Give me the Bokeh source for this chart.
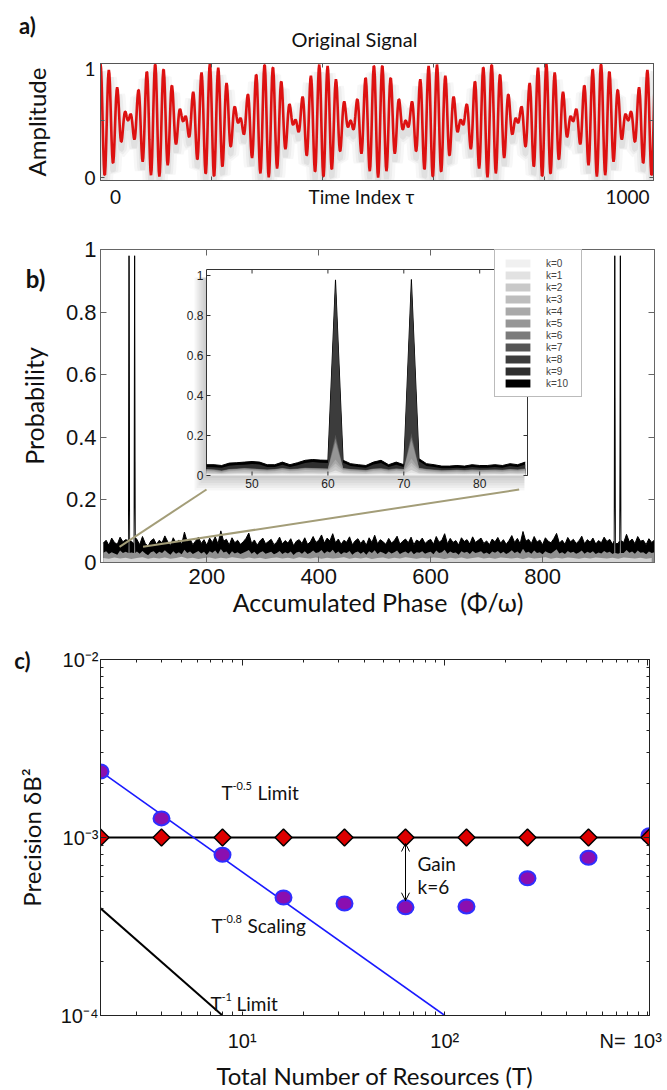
import numpy as np
from bokeh.plotting import figure
from bokeh.layouts import column
from bokeh.models import (Range1d, FixedTicker, LinearAxis, LogAxis, Label,
                          Legend, LegendItem, Arrow, OpenHead)
from bokeh.core.properties import value
from bokeh.embed import file_html
from bokeh.resources import INLINE

# ======================= DATA =======================
# (a) original signal: two cosine components (the two peaks seen in panel b)
signal_tau = list(range(0, 1001))
signal_freqs = [61, 71]
signal_amps = [0.25, 0.25]
signal_offset = 0.5

# (b) main panel: noise floor of the probability, sampled every 5 units
main_phase = list(range(15, 1001, 5))
main_k10 = [
    0.062, 0.071, 0.055, 0.078, 0.064, 0.058, 0.081, 0.066, 0.073, 0.059,
    0.068, 0.049, 0.074, 0.057, 0.083, 0.061, 0.052, 0.069, 0.076, 0.058,
    0.071, 0.063, 0.085, 0.067, 0.054, 0.079, 0.062, 0.072, 0.058, 0.097,
    0.066, 0.075, 0.057, 0.069, 0.081, 0.061, 0.073, 0.055, 0.078, 0.064,
    0.082, 0.059, 0.101, 0.068, 0.074, 0.056, 0.079, 0.063, 0.071, 0.058,
    0.066, 0.077, 0.094, 0.061, 0.072, 0.055, 0.069, 0.078, 0.060, 0.067,
    0.074, 0.057, 0.065, 0.081, 0.059, 0.070, 0.062, 0.076, 0.054, 0.068,
    0.073, 0.061, 0.079, 0.058, 0.066, 0.083, 0.064, 0.071, 0.088, 0.062,
    0.078, 0.069, 0.092, 0.063, 0.075, 0.058, 0.071, 0.065, 0.082, 0.057,
    0.069, 0.076, 0.061, 0.072, 0.055, 0.079, 0.064, 0.087, 0.060, 0.073,
    0.066, 0.058, 0.077, 0.062, 0.070, 0.084, 0.059, 0.068, 0.075, 0.063,
    0.081, 0.057, 0.072, 0.066, 0.078, 0.061, 0.069, 0.074, 0.058, 0.083,
    0.065, 0.071, 0.092, 0.060, 0.077, 0.064, 0.070, 0.056, 0.079, 0.067,
    0.073, 0.059, 0.082, 0.064, 0.071, 0.078, 0.061, 0.069, 0.057, 0.075,
    0.066, 0.080, 0.062, 0.073, 0.058, 0.070, 0.086, 0.064, 0.077, 0.060,
    0.099, 0.068, 0.074, 0.061, 0.083, 0.065, 0.072, 0.057, 0.079, 0.068,
    0.063, 0.076, 0.093, 0.062, 0.071, 0.058, 0.080, 0.066, 0.074, 0.061,
    0.069, 0.084, 0.060, 0.073, 0.065, 0.078, 0.059, 0.070, 0.063, 0.081,
    0.067, 0.074, 0.058, 0.072, 0.061, 0.079, 0.064, 0.090, 0.066, 0.075,
    0.060, 0.083, 0.068, 0.071, 0.057, 0.076, 0.064, 0.072]
main_k5 = [
    0.031, 0.036, 0.027, 0.033, 0.029, 0.025, 0.038, 0.030, 0.034, 0.026,
    0.032, 0.024, 0.035, 0.028, 0.037, 0.029, 0.023, 0.033, 0.036, 0.027,
    0.034, 0.030, 0.039, 0.031, 0.025, 0.036, 0.028, 0.033, 0.026, 0.041,
    0.030, 0.035, 0.027, 0.032, 0.037, 0.029, 0.034, 0.024, 0.036, 0.031,
    0.038, 0.027, 0.043, 0.032, 0.035, 0.025, 0.036, 0.029, 0.033, 0.027,
    0.031, 0.035, 0.040, 0.028, 0.034, 0.025, 0.032, 0.036, 0.028, 0.031,
    0.034, 0.026, 0.030, 0.037, 0.027, 0.033, 0.029, 0.035, 0.024, 0.032,
    0.034, 0.028, 0.036, 0.027, 0.031, 0.038, 0.030, 0.033, 0.040, 0.029,
    0.036, 0.032, 0.041, 0.029, 0.035, 0.026, 0.033, 0.030, 0.037, 0.025,
    0.032, 0.035, 0.028, 0.034, 0.025, 0.036, 0.030, 0.039, 0.027, 0.034,
    0.031, 0.026, 0.035, 0.029, 0.033, 0.038, 0.027, 0.032, 0.035, 0.029,
    0.037, 0.026, 0.033, 0.031, 0.036, 0.028, 0.032, 0.034, 0.026, 0.038,
    0.030, 0.033, 0.041, 0.028, 0.035, 0.030, 0.032, 0.025, 0.036, 0.031,
    0.034, 0.027, 0.037, 0.030, 0.033, 0.036, 0.028, 0.032, 0.026, 0.035,
    0.031, 0.037, 0.029, 0.034, 0.027, 0.032, 0.039, 0.030, 0.035, 0.028,
    0.044, 0.031, 0.034, 0.028, 0.038, 0.030, 0.033, 0.026, 0.036, 0.031,
    0.029, 0.035, 0.042, 0.029, 0.033, 0.027, 0.037, 0.031, 0.034, 0.028,
    0.032, 0.038, 0.028, 0.034, 0.030, 0.036, 0.027, 0.032, 0.029, 0.037,
    0.031, 0.034, 0.027, 0.033, 0.028, 0.036, 0.030, 0.040, 0.031, 0.035,
    0.028, 0.038, 0.031, 0.033, 0.026, 0.035, 0.030, 0.033]
main_phase_k2 = list(range(15, 1000, 10))
main_k2 = [
    0.014, 0.012, 0.016, 0.013, 0.015, 0.011, 0.014, 0.017, 0.012, 0.015,
    0.013, 0.016, 0.012, 0.014, 0.018, 0.013, 0.015, 0.011, 0.014, 0.016,
    0.012, 0.015, 0.013, 0.017, 0.014, 0.012, 0.016, 0.013, 0.015, 0.011,
    0.014, 0.016, 0.013, 0.015, 0.012, 0.017, 0.014, 0.013, 0.016, 0.012,
    0.015, 0.013, 0.014, 0.017, 0.012, 0.015, 0.013, 0.016, 0.011, 0.014,
    0.016, 0.012, 0.015, 0.013, 0.017, 0.014, 0.012, 0.015, 0.013, 0.016,
    0.014, 0.011, 0.015, 0.013, 0.016, 0.012, 0.014, 0.017, 0.013, 0.015,
    0.012, 0.016, 0.014, 0.013, 0.015, 0.011, 0.016, 0.013, 0.014, 0.017,
    0.012, 0.015, 0.013, 0.016, 0.014, 0.012, 0.015, 0.013, 0.016, 0.014,
    0.013, 0.015, 0.012, 0.016, 0.014, 0.013, 0.015, 0.012, 0.014]
peak_phase = [60, 61, 62, 70, 71, 72, 928, 929, 930, 938, 939, 940]
peak_k10 = [0.07, 0.98, 0.07, 0.06, 0.98, 0.08, 0.07, 0.98, 0.06, 0.07, 0.98, 0.07]
peak_k5 = [0.03, 0.17, 0.03, 0.03, 0.18, 0.03, 0.03, 0.18, 0.03, 0.03, 0.17, 0.03]

# (b) inset: zoom on phases 44..86, one series per k
inset_phase = list(range(44, 87))
inset_p = {
    10: [0.054, 0.054, 0.050, 0.062, 0.064, 0.067, 0.070, 0.067, 0.054, 0.054,
         0.067, 0.054, 0.064, 0.076, 0.080, 0.077, 0.076, 0.978, 0.076, 0.059,
         0.054, 0.050, 0.067, 0.076, 0.054, 0.067, 0.054, 0.980, 0.084, 0.059,
         0.054, 0.047, 0.047, 0.050, 0.047, 0.054, 0.050, 0.050, 0.054, 0.050,
         0.059, 0.054, 0.067],
    9: [0.043, 0.041, 0.039, 0.049, 0.052, 0.054, 0.058, 0.055, 0.043, 0.042,
        0.054, 0.043, 0.051, 0.063, 0.067, 0.064, 0.062, 0.966, 0.064, 0.047,
        0.042, 0.039, 0.055, 0.063, 0.043, 0.054, 0.042, 0.968, 0.071, 0.047,
        0.042, 0.036, 0.036, 0.039, 0.036, 0.042, 0.039, 0.039, 0.043, 0.039,
        0.047, 0.042, 0.055],
    8: [0.034, 0.032, 0.026, 0.034, 0.036, 0.039, 0.037, 0.034, 0.032, 0.034,
        0.039, 0.034, 0.036, 0.040, 0.039, 0.038, 0.037, 0.950, 0.039, 0.034,
        0.032, 0.029, 0.036, 0.038, 0.032, 0.037, 0.034, 0.955, 0.040, 0.034,
        0.031, 0.028, 0.029, 0.031, 0.029, 0.032, 0.030, 0.031, 0.032, 0.030,
        0.034, 0.032, 0.036],
    7: [0.033, 0.031, 0.025, 0.033, 0.035, 0.038, 0.036, 0.033, 0.031, 0.033,
        0.038, 0.033, 0.035, 0.039, 0.038, 0.037, 0.036, 0.205, 0.038, 0.033,
        0.031, 0.028, 0.035, 0.037, 0.031, 0.036, 0.033, 0.212, 0.039, 0.033,
        0.030, 0.027, 0.028, 0.030, 0.028, 0.031, 0.029, 0.030, 0.031, 0.029,
        0.033, 0.031, 0.035],
    6: [0.031, 0.029, 0.023, 0.031, 0.033, 0.036, 0.034, 0.031, 0.029, 0.031,
        0.036, 0.031, 0.033, 0.037, 0.036, 0.035, 0.034, 0.186, 0.036, 0.031,
        0.029, 0.026, 0.033, 0.035, 0.029, 0.034, 0.031, 0.193, 0.037, 0.031,
        0.028, 0.025, 0.026, 0.028, 0.026, 0.029, 0.027, 0.028, 0.029, 0.027,
        0.031, 0.029, 0.033],
    5: [0.030, 0.028, 0.022, 0.030, 0.032, 0.035, 0.033, 0.030, 0.028, 0.030,
        0.035, 0.030, 0.032, 0.036, 0.035, 0.034, 0.033, 0.168, 0.035, 0.030,
        0.028, 0.025, 0.032, 0.034, 0.028, 0.033, 0.030, 0.176, 0.036, 0.030,
        0.027, 0.024, 0.025, 0.027, 0.025, 0.028, 0.026, 0.027, 0.028, 0.026,
        0.030, 0.028, 0.032],
    4: [0.025, 0.023, 0.017, 0.025, 0.027, 0.030, 0.028, 0.025, 0.023, 0.025,
        0.030, 0.025, 0.027, 0.031, 0.030, 0.029, 0.028, 0.080, 0.030, 0.025,
        0.023, 0.020, 0.027, 0.029, 0.023, 0.028, 0.025, 0.085, 0.031, 0.025,
        0.022, 0.019, 0.020, 0.022, 0.020, 0.023, 0.021, 0.022, 0.023, 0.021,
        0.025, 0.023, 0.027],
    3: [0.021, 0.019, 0.013, 0.021, 0.023, 0.026, 0.024, 0.021, 0.019, 0.021,
        0.026, 0.021, 0.023, 0.027, 0.026, 0.025, 0.024, 0.060, 0.026, 0.021,
        0.019, 0.016, 0.023, 0.025, 0.019, 0.024, 0.021, 0.064, 0.027, 0.021,
        0.018, 0.015, 0.016, 0.018, 0.016, 0.019, 0.017, 0.018, 0.019, 0.017,
        0.021, 0.019, 0.023],
    2: [0.014, 0.013, 0.012, 0.015, 0.016, 0.017, 0.016, 0.014, 0.013, 0.014,
        0.017, 0.014, 0.015, 0.018, 0.017, 0.016, 0.016, 0.045, 0.017, 0.014,
        0.013, 0.012, 0.016, 0.017, 0.013, 0.016, 0.014, 0.047, 0.018, 0.014,
        0.013, 0.011, 0.012, 0.013, 0.012, 0.013, 0.012, 0.013, 0.013, 0.012,
        0.014, 0.013, 0.015],
    1: [0.010, 0.009, 0.008, 0.010, 0.011, 0.011, 0.010, 0.010, 0.009, 0.010,
        0.011, 0.010, 0.010, 0.011, 0.011, 0.010, 0.011, 0.025, 0.011, 0.010,
        0.009, 0.008, 0.010, 0.011, 0.009, 0.010, 0.010, 0.027, 0.011, 0.010,
        0.009, 0.008, 0.008, 0.009, 0.008, 0.009, 0.008, 0.009, 0.009, 0.008,
        0.010, 0.009, 0.010],
    0: [0.006, 0.006, 0.005, 0.006, 0.007, 0.007, 0.006, 0.006, 0.005, 0.006,
        0.007, 0.006, 0.006, 0.007, 0.007, 0.006, 0.007, 0.013, 0.007, 0.006,
        0.005, 0.005, 0.006, 0.007, 0.006, 0.006, 0.006, 0.014, 0.007, 0.006,
        0.005, 0.005, 0.005, 0.006, 0.005, 0.006, 0.005, 0.005, 0.006, 0.005,
        0.006, 0.005, 0.006],
}
inset_xticks = [50, 60, 70, 80]
inset_yticks = [0, 0.2, 0.4, 0.6, 0.8, 1]
inset_ytick_labels = ["0", "0.2", "0.4", "0.6", "0.8", "1"]
k_values = list(range(11))
k_colors = ["#f0f0f0", "#e2e2e2", "#c9c9c9", "#bdbdbd", "#a9a9a9", "#969696",
            "#7b7b7b", "#555555", "#3c3c3c", "#2e2e2e", "#000000"]

# (c) precision vs resources
T_resources = [2, 4, 8, 16, 32, 64, 128, 256, 512, 1024]
precision_adaptive = [2.35e-3, 1.28e-3, 8.0e-4, 4.6e-4, 4.26e-4, 4.05e-4,
                      4.1e-4, 5.9e-4, 7.7e-4, 1.03e-3]
precision_limit05 = [1.0e-3, 1.0e-3, 1.0e-3, 1.0e-3, 1.0e-3, 1.0e-3,
                     1.0e-3, 1.0e-3, 1.0e-3, 1.0e-3]
scaling08_T = [2, 100]
scaling08_v = [2.35e-3, 1.0e-4]
limit1_T = [2, 8]
limit1_v = [4.0e-4, 1.0e-4]

# ======================= LAYOUT HELPERS =======================
W = 667  # page has no body margin: canvases start at (0, 0)


class Geo:
    """page-pixel <-> data conversion for one frame"""
    def __init__(s, fl, ft, fw, fh, xr, yr, xlog=False, ylog=False):
        s.fl, s.ft, s.fw, s.fh = fl, ft, fw, fh
        s.xr, s.yr, s.xlog, s.ylog = xr, yr, xlog, ylog

    @staticmethod
    def _interp(f, a, b, log):
        if log:
            return float(10 ** (np.log10(a) + f * (np.log10(b) - np.log10(a))))
        return float(a + f * (b - a))

    def x(s, px):
        return s._interp((px - s.fl) / s.fw, s.xr[0], s.xr[1], s.xlog)

    def y(s, py):
        return s._interp((s.ft + s.fh - py) / s.fh, s.yr[0], s.yr[1], s.ylog)

    def px(s, x):
        return s.fl + (x - s.xr[0]) / (s.xr[1] - s.xr[0]) * s.fw

    def py(s, y):
        return s.ft + s.fh - (y - s.yr[0]) / (s.yr[1] - s.yr[0]) * s.fh


def make_fig(top, h, fl, ft, fw, fh, **kw):
    p = figure(frame_width=fw, frame_height=fh,
               min_border_left=fl, min_border_right=W - fl - fw,
               min_border_top=ft - top, min_border_bottom=h - (ft - top) - fh,
               output_backend="svg", toolbar_location=None, **kw)
    p.xgrid.visible = False
    p.ygrid.visible = False
    p.background_fill_color = "white"
    p.border_fill_color = "white"
    return p


def style_axis(ax, ticks, minor=None, color="#444", labels=False,
               font="Liberation Sans", size=20, standoff=4, overrides=None,
               tick=6, minor_tick=3, show_major=True):
    ax.ticker = FixedTicker(ticks=ticks, minor_ticks=minor or [])
    ax.major_tick_in = tick
    ax.major_tick_out = 0
    ax.minor_tick_in = minor_tick
    ax.minor_tick_out = 0
    ax.axis_line_color = color
    ax.major_tick_line_color = color if show_major else None
    ax.minor_tick_line_color = color if minor else None
    if labels:
        ax.major_label_text_font = font
        ax.major_label_text_font_size = f"{size}px"
        ax.major_label_text_color = "#111"
        ax.major_label_standoff = standoff
    else:
        # tick-only axis: labels are not painted
        ax.major_label_text_font_size = "2px"
        ax.major_label_text_color = None
        ax.major_label_standoff = 0
    if overrides:
        ax.major_label_overrides = overrides


def axis_title(ax, text, size, standoff, font="Lato"):
    ax.axis_label = text
    ax.axis_label_text_font = font
    ax.axis_label_text_font_size = f"{size}px"
    ax.axis_label_text_font_style = "normal"
    ax.axis_label_text_color = "#111"
    ax.axis_label_standoff = standoff


def add_text(p, g, px, py, text, size, font="Lato", align="center",
             bold=False, angle=0, baseline="middle", color="#111", side="center"):
    lab = Label(x=g.x(px), y=g.y(py), text=text, text_font=font,
                text_font_size=f"{size}px", text_align=align,
                text_baseline=baseline, angle=angle, text_color=color,
                text_font_style="bold" if bold else "normal")
    p.add_layout(lab, side)


# ======================= PANEL A =======================
A_TOP, A_H = 0, 215
A_FL, A_FT, A_FW, A_FH = 94, 63, 553, 117
a_xr, a_yr = (0, 996), (-0.026, 1.0)
ga = Geo(A_FL, A_FT, A_FW, A_FH, a_xr, a_yr)
pa = make_fig(A_TOP, A_H, A_FL, A_FT, A_FW, A_FH,
              x_range=Range1d(*a_xr), y_range=Range1d(*a_yr))
pa.outline_line_color = "#555"

tau = np.array(signal_tau, dtype=float)
signal = signal_offset + sum(a * np.cos(2 * np.pi * f * tau / 1000.0)
                             for f, a in zip(signal_freqs, signal_amps))
# soft drop shadow under the curve
for lw, al in [(16, 0.03), (10, 0.04), (5, 0.05)]:
    pa.line(tau, signal - 0.07, line_color="black", line_alpha=al,
            line_width=lw)
pa.line(tau, signal, line_color="#dd1111", line_width=2.6)

# bottom: caption row "0", "Time Index τ", "1000"; tick marks as minor ticks
a_xlabel_pos = [ga.x(109), ga.x(355), ga.x(621)]
style_axis(pa.xaxis[0], a_xlabel_pos, minor=[200, 400, 600, 800], color="#555",
           labels=True, font="Lato", size=19, standoff=4, show_major=False,
           minor_tick=4,
           overrides={a_xlabel_pos[0]: "0", a_xlabel_pos[1]: "Time Index \u03c4",
                      a_xlabel_pos[2]: "1000"})
a_ylabel_pos = [0.0, ga.y(68)]
style_axis(pa.yaxis[0], a_ylabel_pos, minor=[0, 0.5, 1], color="#555",
           labels=True, font="Lato", size=19, standoff=5, show_major=False,
           minor_tick=4, overrides={a_ylabel_pos[0]: "0", a_ylabel_pos[1]: "1"})
axis_title(pa.yaxis[0], "Amplitude", 24, 30)
top_a = LinearAxis()
right_a = LinearAxis()
style_axis(top_a, [200, 400, 600, 800], color="#555", tick=4)
style_axis(right_a, [0, 0.5, 1], color="#555", tick=4)
pa.add_layout(top_a, "above")
pa.add_layout(right_a, "right")

add_text(pa, ga, 348, 38, "Original Signal", 20, side="above")
add_text(pa, ga, 21, 25, "a)", 22, bold=True, side="above")

# ======================= PANEL B =======================
B_TOP, B_H = 215, 410
B_FL, B_FT, B_FW, B_FH = 96, 249, 554, 313
b_xr, b_yr = (10, 1000), (0, 1)
gb = Geo(B_FL, B_FT, B_FW, B_FH, b_xr, b_yr)
# inset placement (page px) and its data ranges
gi = Geo(202, 269, 321, 206, (44, 86.3), (0, 1.03))
pb = make_fig(B_TOP, B_H, B_FL, B_FT, B_FW, B_FH,
              x_range=Range1d(*b_xr), y_range=Range1d(*b_yr))
pb.outline_line_color = "#666"
pb.extra_x_ranges = {"ix": Range1d(gi.x(B_FL), gi.x(B_FL + B_FW))}
pb.extra_y_ranges = {"iy": Range1d(gi.y(B_FT + B_FH), gi.y(B_FT))}
IN = dict(x_range_name="ix", y_range_name="iy")


def merge(xs, ys, pxs, pys):
    d = dict(zip(xs, ys))
    d.update(dict(zip(pxs, pys)))
    k = sorted(d)
    return k, [d[i] for i in k]


ph10, v10 = merge(main_phase, main_k10, peak_phase, peak_k10)
ph5, v5 = merge(main_phase, main_k5, peak_phase, peak_k5)
pb.varea(x=ph10, y1=0, y2=v10, fill_color="black")
pb.line(ph10, v10, line_color="black", line_width=1)
pb.varea(x=ph5, y1=0, y2=v5, fill_color="#8f8f8f")
pb.varea(x=main_phase_k2, y1=0, y2=main_k2, fill_color="#d4d4d4")

style_axis(pb.xaxis[0], [200, 400, 600, 800], color="#666", labels=True,
           size=22, standoff=6)
axis_title(pb.xaxis[0], "Accumulated Phase\u00a0 (\u03a6/\u03c9)", 25, 0)
style_axis(pb.yaxis[0], [0, 0.2, 0.4, 0.6, 0.8, 1], color="#666",
           labels=True, size=22, standoff=4, overrides={0: "0", 1: "1"})
axis_title(pb.yaxis[0], "Probability", 25, 14)
top_b = LinearAxis()
right_b = LinearAxis()
style_axis(top_b, [200, 400, 600, 800], color="#666")
style_axis(right_b, [0, 0.2, 0.4, 0.6, 0.8, 1], color="#666")
pb.add_layout(top_b, "above")
pb.add_layout(right_b, "right")

# inset box with soft shadow
x0i, x1i = gi.xr
y0i, y1i = gi.yr
for i in range(1, 7):
    pb.quad(left=gi.x(202 - 2 * i), right=gi.x(523 - 3), top=gi.y(269 + 8),
            bottom=gi.y(475 + 2.5 * i), fill_color="black", fill_alpha=0.035,
            line_color=None, level="underlay", **IN)
pb.quad(left=x0i, right=x1i, bottom=y0i, top=y1i, fill_color="white",
        line_color="#333", line_width=1, level="underlay", **IN)

renderers = {}
for k in sorted(inset_p, reverse=True):      # darkest (largest k) drawn first
    renderers[k] = pb.varea(x=inset_phase, y1=0, y2=inset_p[k],
                            fill_color=k_colors[k], **IN)
    if k == 10:
        pb.line(inset_phase, inset_p[10], line_color="black", line_width=1, **IN)

# inset ticks
tk_x = gi.x(202 + 4) - x0i
tk_y = gi.y(475 - 4) - y0i
pb.segment(x0=inset_xticks, x1=inset_xticks, y0=[y0i] * 4, y1=[y0i + tk_y] * 4,
           line_color="#333", **IN)
pb.segment(x0=inset_xticks, x1=inset_xticks, y0=[y1i] * 4, y1=[y1i - tk_y] * 4,
           line_color="#333", **IN)
pb.segment(x0=[x0i] * 6, x1=[x0i + tk_x] * 6, y0=inset_yticks, y1=inset_yticks,
           line_color="#333", **IN)
pb.segment(x0=[x1i] * 6, x1=[x1i - tk_x] * 6, y0=inset_yticks, y1=inset_yticks,
           line_color="#333", **IN)
pb.text(x=inset_xticks, y=[gi.y(478)] * 4, text=[str(t) for t in inset_xticks],
        text_font=value("Liberation Sans"), text_font_size=value("12px"),
        text_align="center", text_baseline="top", text_color="#222", **IN)
pb.text(x=[gi.x(199)] * 6, y=inset_yticks, text=inset_ytick_labels,
        text_font=value("Liberation Sans"), text_font_size=value("12px"),
        text_align="right", text_baseline="middle", text_color="#222", **IN)

# zoom connector lines from the main trace to the inset
con_x0 = [inset_phase[0], inset_phase[-1]]
con_y0 = [0.05, 0.05]
con_x1 = [gb.x(gi.px(inset_phase[0])), gb.x(gi.px(85.2))]
con_y1 = [gb.y(gi.py(-0.07)), gb.y(gi.py(-0.07))]
pb.segment(x0=con_x0, y0=con_y0, x1=con_x1, y1=con_y1,
           line_color="#a39d78", line_width=2)

# legend: location = bottom-left corner of the box, relative to the frame
LEG_BOTTOM = 397
legend = Legend(items=[LegendItem(label=f"k={k}", renderers=[renderers[k]])
                       for k in k_values],
                location=(490 - B_FL, B_FT + B_FH - LEG_BOTTOM),
                label_text_font="Liberation Sans", label_text_font_size="10px",
                glyph_width=31, glyph_height=10, label_height=12,
                label_width=28, label_standoff=13, spacing=0, padding=7,
                margin=0, border_line_color="#777", background_fill_alpha=1)
pb.add_layout(legend)

add_text(pb, gb, 31, 278, "b)", 24, bold=True, side="above")

# ======================= PANEL C =======================
C_TOP, C_H = 625, 465
C_FL, C_FT, C_FW, C_FH = 100, 659, 549, 356
c_xr, c_yr = (2, 1024), (1e-4, 1e-2)
gc = Geo(C_FL, C_FT, C_FW, C_FH, c_xr, c_yr, xlog=True, ylog=True)
pc = make_fig(C_TOP, C_H, C_FL, C_FT, C_FW, C_FH,
              x_axis_type="log", y_axis_type="log",
              x_range=Range1d(*c_xr), y_range=Range1d(*c_yr))
pc.outline_line_color = "#222"

pc.line(T_resources, precision_limit05, line_color="black", line_width=2)
pc.line(scaling08_T, scaling08_v, line_color="#1a1aff", line_width=1.6)
pc.line(limit1_T, limit1_v, line_color="black", line_width=2)
pc.ellipse(x=T_resources, y=precision_adaptive, width=16, height=14,
           width_units="screen", height_units="screen",
           fill_color="#8a0fb0", line_color="#2f2fff", line_width=2)
pc.scatter(T_resources, precision_limit05, marker="square", angle=np.pi / 4,
           size=12, fill_color="#dd0000", line_color="black", line_width=1.5)

gain_i = 5
pc.add_layout(Arrow(start=OpenHead(size=8, line_width=1),
                    end=OpenHead(size=8, line_width=1),
                    x_start=T_resources[gain_i],
                    y_start=precision_limit05[gain_i] * 0.925,
                    x_end=T_resources[gain_i],
                    y_end=precision_adaptive[gain_i] * 1.09,
                    line_width=1, line_color="black"))

y_minor = [2e-4, 3e-4, 4e-4, 5e-4, 6e-4, 7e-4, 8e-4, 9e-4,
           2e-3, 3e-3, 4e-3, 5e-3, 6e-3, 7e-3, 8e-3, 9e-3]
x_minor = [3, 4, 5, 6, 7, 8, 9, 20, 30, 40, 50, 60, 70, 80, 90,
           200, 300, 400, 500, 600, 700, 800, 900]
n_label_pos = gc.x(612)
style_axis(pc.xaxis[0], [10, 100, n_label_pos, 1000],
           minor=x_minor + [10, 100, 1000], color="#222",
           labels=True, size=20, standoff=14, show_major=False, minor_tick=4,
           overrides={10: "10\u00b9", 100: "10\u00b2", n_label_pos: "N=",
                      1000: "10\u00b3"})
axis_title(pc.xaxis[0], "Total Number of Resources (T)", 24, 6)
style_axis(pc.yaxis[0], [1e-4, 1e-3, 1e-2], minor=y_minor, color="#222",
           labels=True, size=20, standoff=2,
           overrides={1e-4: "10\u207b\u2074", 1e-3: "10\u207b\u00b3",
                      1e-2: "10\u207b\u00b2"})
axis_title(pc.yaxis[0], "Precision \u03b4B\u00b2", 24, 12)
top_c = LogAxis()
right_c = LogAxis()
style_axis(top_c, [10, 100, 1000], minor=x_minor, color="#222")
style_axis(right_c, [1e-4, 1e-3, 1e-2], minor=y_minor, color="#222")
pc.add_layout(top_c, "above")
pc.add_layout(right_c, "right")

add_text(pc, gc, 22, 660, "c)", 22, bold=True, side="above")

add_text(pc, gc, 221, 792, "T", 19, align="left")
add_text(pc, gc, 232, 785, "-0.5", 11, align="left")
add_text(pc, gc, 257, 792, "Limit", 19, align="left")
add_text(pc, gc, 211, 925, "T", 19, align="left")
add_text(pc, gc, 222, 918, "-0.8", 11, align="left")
add_text(pc, gc, 247, 925, "Scaling", 19, align="left")
add_text(pc, gc, 210, 1003, "T", 19, align="left")
add_text(pc, gc, 221, 996, "-1", 11, align="left")
add_text(pc, gc, 236, 1003, "Limit", 19, align="left")
add_text(pc, gc, 417, 863, "Gain", 19, align="left")
add_text(pc, gc, 417, 886, "k=6", 19, align="left")

layout = column(pa, pb, pc)
open("out.html", "w").write(file_html(layout, INLINE))
